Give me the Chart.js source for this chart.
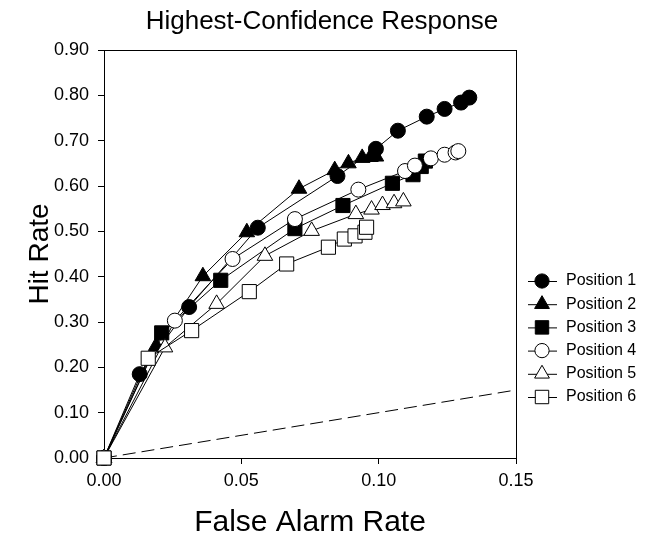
<!DOCTYPE html>
<html>
<head>
<meta charset="utf-8">
<script src="https://cdn.jsdelivr.net/npm/chart.js@4/dist/chart.umd.min.js"></script>
<style>
html,body{margin:0;padding:0;background:#fff;}
</style>
</head>
<body>
<canvas id="myChart" width="664" height="538"></canvas>
<script>
// values
var chartTitle = "Highest-Confidence Response";
var seriesNames = ["Position 1", "Position 2", "Position 3", "Position 4", "Position 5", "Position 6"];

var pos1X = [0, 0.013, 0.031, 0.056, 0.085, 0.099, 0.107, 0.1175, 0.124, 0.130, 0.133];
var pos1Y = [0, 0.185, 0.333, 0.508, 0.622, 0.682, 0.722, 0.753, 0.770, 0.784, 0.795];

var pos2X = [0, 0.019, 0.036, 0.052, 0.071, 0.084, 0.089, 0.094, 0.097, 0.099];
var pos2Y = [0, 0.247, 0.401, 0.498, 0.594, 0.635, 0.650, 0.662, 0.664, 0.665];

var pos3X = [0, 0.021, 0.0425, 0.0695, 0.087, 0.105, 0.1125, 0.1155, 0.117];
var pos3Y = [0, 0.276, 0.392, 0.506, 0.557, 0.606, 0.625, 0.643, 0.655];

var pos4X = [0, 0.0258, 0.0468, 0.0695, 0.0926, 0.1096, 0.1132, 0.119, 0.124, 0.128, 0.129];
var pos4Y = [0, 0.303, 0.439, 0.527, 0.592, 0.633, 0.645, 0.661, 0.669, 0.674, 0.677];

var pos5X = [0, 0.0222, 0.041, 0.0586, 0.0756, 0.0917, 0.0974, 0.1014, 0.1056, 0.109];
var pos5Y = [0, 0.244, 0.340, 0.446, 0.501, 0.538, 0.548, 0.558, 0.562, 0.566];

var pos6X = [0, 0.0161, 0.0319, 0.0529, 0.0665, 0.0817, 0.0875, 0.0914, 0.095, 0.0956];
var pos6Y = [0, 0.220, 0.281, 0.367, 0.428, 0.465, 0.483, 0.490, 0.498, 0.509];

var chanceX = [0, 0.15];
var chanceY = [0, 0.15];

var xTicks = [0, 0.05, 0.10, 0.15];
var yTicks = [0, 0.1, 0.2, 0.3, 0.4, 0.5, 0.6, 0.7, 0.8, 0.9];

var allX = [pos1X, pos2X, pos3X, pos4X, pos5X, pos6X];
var allY = [pos1Y, pos2Y, pos3Y, pos4Y, pos5Y, pos6Y];
var shapes = ["circle", "triangle", "rect", "circle", "triangle", "rect"];
var fills = ["#000", "#000", "#000", "#fff", "#fff", "#fff"];
var radii = {circle: 7.5, triangle: 9, rect: 10};

var FONT = "'Liberation Sans', Arial, Helvetica, sans-serif";

function toPoints(xs, ys){
	var pts = [];
	for (var i = 0; i < xs.length; i++) {
		pts.push({x: xs[i], y: ys[i]});
	}
	return pts;
}

var datasets = [];
for (var i = 0; i < seriesNames.length; i++) {
	datasets.push({
		label: seriesNames[i],
		data: toPoints(allX[i], allY[i]),
		showLine: true,
		borderColor: "#000",
		borderWidth: 1,
		pointStyle: shapes[i],
		pointRadius: radii[shapes[i]],
		pointHoverRadius: radii[shapes[i]],
		pointBackgroundColor: fills[i],
		pointBorderColor: "#000",
		pointBorderWidth: 1,
		clip: false,
		order: 10 - i
	});
}
// chance diagonal
datasets.push({
	label: "chance",
	data: toPoints(chanceX, chanceY),
	showLine: true,
	borderColor: "#000",
	borderWidth: 1,
	borderDash: [13, 6],
	pointRadius: 0,
	order: 100
});

// box round the plot area, and the title centred over it
var framePlugin = {
	id: "frame",
	beforeDatasetsDraw: function(chart){
		var a = chart.chartArea, ctx = chart.ctx;
		ctx.save();
		ctx.strokeStyle = "#000";
		ctx.lineWidth = 1;
		ctx.strokeRect(Math.round(a.left) + 0.5, Math.round(a.top) + 0.5, Math.round(a.right - a.left), Math.round(a.bottom - a.top));
		ctx.fillStyle = "#000";
		ctx.font = "26px " + FONT;
		ctx.textAlign = "center";
		ctx.textBaseline = "middle";
		ctx.fillText(chartTitle, (a.left + a.right) / 2 + 12, 22);
		ctx.restore();
	}
};

function drawMarker(ctx, shape, x, y, r, fill){
	ctx.beginPath();
	if (shape == "circle") {
		ctx.arc(x, y, r, 0, Math.PI * 2);
	} else if (shape == "triangle") {
		ctx.moveTo(x, y - r);
		ctx.lineTo(x + Math.sin(2 * Math.PI / 3) * r, y + r / 2);
		ctx.lineTo(x - Math.sin(2 * Math.PI / 3) * r, y + r / 2);
		ctx.closePath();
	} else {
		var s = r * Math.SQRT1_2;
		ctx.rect(x - s, y - s, 2 * s, 2 * s);
	}
	ctx.fillStyle = fill;
	ctx.fill();
	ctx.stroke();
}

// legend with a line through each marker
var legendPlugin = {
	id: "lineLegend",
	afterDraw: function(chart){
		var ctx = chart.ctx;
		ctx.save();
		ctx.strokeStyle = "#000";
		ctx.lineWidth = 1;
		ctx.font = "16px " + FONT;
		ctx.textBaseline = "middle";
		for (var i = 0; i < seriesNames.length; i++) {
			var y = 281 + i * 23.2;
			ctx.beginPath();
			ctx.moveTo(528, y + 0.5);
			ctx.lineTo(557, y + 0.5);
			ctx.stroke();
			drawMarker(ctx, shapes[i], 542, y, radii[shapes[i]] * 0.95, fills[i]);
			ctx.fillStyle = "#000";
			ctx.fillText(seriesNames[i], 566, y);
		}
		ctx.restore();
	}
};

var ctx = document.getElementById("myChart").getContext("2d");
var myChart = new Chart(ctx, {
	type: "scatter",
	data: {datasets: datasets},
	plugins: [framePlugin, legendPlugin],
	options: {
		responsive: false,
		animation: false,
		layout: {padding: {left: 0, right: 148, top: 50, bottom: 0}},
		plugins: {
			legend: {display: false},
			tooltip: {enabled: false},
			title: {display: false}
		},
		scales: {
			x: {
				type: "linear",
				min: 0,
				max: 0.15,
				afterBuildTicks: function(s){ s.ticks = xTicks.map(function(v){ return {value: v}; }); },
				afterFit: function(s){ s.height = 80; },
				ticks: {
					color: "#000",
					font: {family: FONT, size: 18},
					padding: 6,
					maxRotation: 0,
					callback: function(v){ return Number(v).toFixed(2); }
				},
				grid: {drawOnChartArea: false, drawTicks: true, tickLength: 6, color: "#000"},
				border: {display: true, color: "#000", width: 1},
				title: {
					display: true,
					text: "False Alarm Rate",
					color: "#000",
					font: {family: FONT, size: 30, lineHeight: 1},
					padding: {top: 0, bottom: 0}
				}
			},
			y: {
				type: "linear",
				min: 0,
				max: 0.9,
				afterBuildTicks: function(s){ s.ticks = yTicks.map(function(v){ return {value: v}; }); },
				afterFit: function(s){ s.width = 104; },
				ticks: {
					color: "#000",
					font: {family: FONT, size: 18},
					padding: 9,
					callback: function(v){ return Number(v).toFixed(2); }
				},
				grid: {drawOnChartArea: false, drawTicks: true, tickLength: 6, color: "#000"},
				border: {display: true, color: "#000", width: 1},
				title: {
					display: true,
					text: "Hit Rate",
					color: "#000",
					font: {family: FONT, size: 28, lineHeight: 1},
					padding: {top: 26, bottom: 0}
				}
			}
		}
	}
});
</script>
</body>
</html>
